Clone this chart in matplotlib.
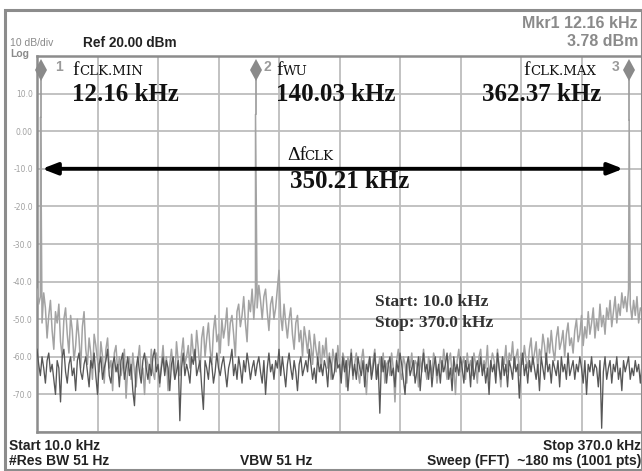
import numpy as np
import matplotlib
matplotlib.use("Agg")
import matplotlib.pyplot as plt
from matplotlib.patches import Rectangle

# ---------------- data ----------------
start_khz, stop_khz = 10.0, 370.0
ref_dbm = 20.0
y_ticks = [-80, -70, -60, -50, -40, -30, -20, -10, 0, 10, 20]
y_tick_labels = ["", "-70.0", "-60.0", "-50.0", "-40.0", "-30.0", "-20.0", "-10.0", "0.00", "10.0", ""]

# trace with the clock peaks (light gray), one value per kHz from 10 to 370 kHz
trace_bright = [
    -42, -46, -44, -51, -43, -47, -55, -49, -45, -53,
    -58, -48, -51, -46, -56, -60, -50, -47, -54, -59,
    -49, -53, -61, -57, -50, -55, -63, -52, -48, -58,
    -62, -55, -59, -66, -54, -57, -61, -64, -56, -60,
    -67, -58, -55, -63, -61, -69, -59, -57, -64, -60,
    -65, -62, -58, -71, -63, -60, -66, -59, -64, -68,
    -61, -57, -65, -63, -70, -60, -62, -67, -58, -64,
    -66, -59, -61, -68, -62, -57, -64, -60, -69, -62,
    -58, -63, -66, -56, -61, -65, -59, -55, -62, -60,
    -57, -63, -54, -59, -61, -53, -58, -64, -55, -52,
    -60, -55, -51, -58, -62, -53, -49, -56, -54, -59,
    -50, -55, -52, -47, -57, -51, -49, -54, -60, -48,
    -46, -52, -49, -44, -51, -56, -45, -48, -42, -50,
    -43, -47, -41, -45, -50, -44, -42, -48, -53, -46,
    -44, -50, -47, -42, -37, -49, -53, -46, -51, -55,
    -50, -47, -54, -58, -51, -49, -56, -53, -60, -52,
    -55, -59, -53, -57, -62, -54, -58, -61, -56, -64,
    -57, -60, -55, -63, -59, -66, -58, -61, -64, -57,
    -62, -65, -59, -61, -68, -60, -63, -58, -66, -62,
    -59, -64, -67, -61, -58, -63, -70, -62, -60, -65,
    -61, -58, -66, -63, -60, -64, -59, -67, -62, -61,
    -65, -59, -63, -72, -61, -58, -64, -66, -60, -62,
    -67, -60, -63, -59, -65, -61, -62, -68, -60, -64,
    -58, -63, -66, -60, -62, -65, -59, -61, -67, -63,
    -60, -64, -58, -62, -66, -61, -59, -65, -63, -70,
    -61, -58, -64, -62, -60, -66, -59, -63, -61, -65,
    -59, -62, -67, -60, -58, -64, -61, -63, -57, -66,
    -62, -59, -61, -65, -58, -63, -68, -60, -62, -57,
    -64, -59, -61, -56, -63, -60, -58, -65, -59, -62,
    -57, -61, -63, -58, -55, -62, -59, -56, -64, -58,
    -60, -54, -57, -62, -55, -59, -53, -58, -61, -55,
    -52, -58, -56, -53, -60, -54, -51, -57, -55, -59,
    -53, -50, -56, -54, -49, -57, -52, -55, -48, -54,
    -51, -47, -55, -50, -53, -46, -52, -49, -54, -47,
    -50, -45, -52, -48, -44, -51, -46, -49, -43, -47,
    -44, -48, -42, -46, -50, -45, -49, -44, -51, -47,
    -48,
]

# noise floor trace (dark gray), one value per kHz from 10 to 370 kHz
trace_dark = [
    -58, -62, -65, -60, -63, -67, -61, -59, -64, -62,
    -66, -70, -61, -63, -72, -60, -58, -64, -67, -62,
    -60, -65, -63, -69, -61, -59, -64, -66, -62, -60,
    -64, -68, -61, -63, -59, -65, -70, -62, -60, -66,
    -63, -61, -58, -65, -67, -62, -60, -64, -62, -68,
    -61, -59, -66, -63, -60, -65, -62, -69, -73, -63,
    -60, -64, -67, -61, -59, -63, -66, -62, -65, -60,
    -58, -64, -62, -67, -63, -60, -65, -61, -63, -69,
    -62, -60, -66, -64, -61, -77, -63, -59, -65, -62,
    -64, -67, -60, -62, -58, -65, -63, -61, -68, -74,
    -61, -63, -66, -60, -62, -67, -64, -59, -63, -65,
    -62, -60, -64, -68, -63, -61, -58, -65, -62, -66,
    -60, -63, -67, -61, -64, -59, -62, -66, -63, -61,
    -65, -62, -60, -64, -67, -61, -70, -63, -59, -64,
    -62, -66, -61, -63, -58, -65, -60, -64, -68, -62,
    -59, -63, -66, -61, -64, -69, -62, -60, -65, -63,
    -61, -64, -58, -62, -66, -63, -67, -60, -64, -62,
    -65, -61, -63, -68, -60, -62, -66, -64, -59, -63,
    -62, -67, -60, -64, -61, -69, -63, -59, -65, -62,
    -66, -60, -63, -65, -61, -68, -62, -64, -60, -66,
    -63, -59, -66, -62, -75, -60, -64, -61, -67, -62,
    -60, -65, -63, -68, -61, -64, -59, -62, -66, -70,
    -62, -60, -65, -63, -61, -67, -64, -60, -69, -63,
    -59, -64, -62, -66, -61, -68, -63, -60, -65, -62,
    -67, -61, -64, -62, -59, -66, -63, -69, -60, -64,
    -62, -65, -60, -63, -67, -61, -64, -62, -68, -60,
    -66, -63, -61, -64, -60, -65, -62, -67, -63, -70,
    -61, -64, -62, -67, -59, -63, -66, -60, -65, -62,
    -68, -61, -63, -66, -60, -64, -62, -71, -63, -59,
    -65, -62, -67, -61, -64, -60, -63, -66, -62, -69,
    -60, -63, -66, -59, -64, -62, -67, -61, -63, -65,
    -61, -68, -60, -64, -62, -66, -59, -65, -63, -61,
    -66, -62, -64, -60, -63, -67, -61, -70, -62, -64,
    -60, -65, -62, -63, -68, -61, -79, -64, -60, -66,
    -63, -61, -67, -62, -64, -60, -66, -63, -69, -61,
    -64, -62, -60, -66, -63, -65, -61, -64, -62, -67,
    -62,
]

peak_freqs = [12.16, 140.03, 362.37]
peak_levels = [3.78, 4.5, 3.0]
marker_numbers = ["1", "2", "3"]
marker_top_dbm = 16.3

arrow_from_khz, arrow_to_khz, arrow_dbm = 13.0, 358.8, -10.0

# ---------------- figure ----------------
W, H = 642, 471
fig = plt.figure(figsize=(W / 100, H / 100), dpi=100)
fig.patch.set_facecolor("white")


def fx(px):
    return px / W


def fy(py):
    return 1 - py / H


ax = fig.add_axes([fx(37), fy(432), 605 / W, 376 / H])
ax.set_xlim(start_khz, stop_khz)
ax.set_ylim(-80, ref_dbm)
ax.set_xticks(np.linspace(start_khz, stop_khz, 11))
ax.set_xticklabels([])
ax.set_yticks(y_ticks)
ax.set_yticklabels(y_tick_labels)
ax.tick_params(length=0, labelsize=5.5, labelcolor="#a0a0a0", pad=3)
ax.grid(True, color="#bdbdbd", lw=1.3)
ax.set_axisbelow(True)
for s in ax.spines.values():
    s.set_color("#8c8c8c")
    s.set_linewidth(1.8)

# build bright trace with peaks inserted
f_grid = np.linspace(start_khz, stop_khz, len(trace_bright))
fb = np.concatenate([f_grid, np.array(peak_freqs)])
vb = np.concatenate([np.array(trace_bright, float), np.array(peak_levels)])
order = np.argsort(fb)
ax.plot(fb[order], vb[order], color="#a3a3a3", lw=1.1, zorder=3)

f_dark = np.linspace(start_khz, stop_khz, len(trace_dark))
ax.plot(f_dark, trace_dark, color="#575757", lw=0.95, zorder=4)

# markers
for f, lvl, num in zip(peak_freqs, peak_levels, marker_numbers):
    ax.plot([f, f], [lvl, marker_top_dbm], color="#9a9a9a", lw=1.2, zorder=3, clip_on=False)
    ax.plot([f], [marker_top_dbm], marker="d", ms=11, mew=0, color="#8a8a8a", zorder=5, clip_on=False)

mk = dict(fontsize=10, color="#9a9a9a", family="Liberation Sans", fontweight="bold", va="baseline")
fig.text(fx(55), fy(71), "1", **mk)
fig.text(fx(263), fy(71), "2", **mk)
fig.text(fx(612), fy(71), "3", **mk)

# arrow
ax.annotate("", xy=(arrow_to_khz, arrow_dbm), xytext=(arrow_from_khz, arrow_dbm),
            arrowprops=dict(arrowstyle="<|-|>,head_length=0.9,head_width=0.35",
                            color="black", lw=2.8, shrinkA=0, shrinkB=0), zorder=6)

serif = "Liberation Serif"
big = dict(fontsize=18, family=serif, color="#111111", va="baseline", fontweight="bold")
fsym = dict(fontsize=14, family=serif, color="#111111", va="baseline")
sub = dict(fontsize=9.5, family="DejaVu Serif", color="#111111", va="baseline")

fig.text(fx(72), fy(75), "f", **fsym)
fig.text(fx(79), fy(75), "CLK.MIN", **sub)
fig.text(fx(72), fy(101), "12.16 kHz", **big)

fig.text(fx(276), fy(75), "f", **fsym)
fig.text(fx(283), fy(75), "WU", **sub)
fig.text(fx(276), fy(101), "140.03 kHz", **big)

fig.text(fx(523), fy(75), "f", **fsym)
fig.text(fx(530), fy(75), "CLK.MAX", **sub)
fig.text(fx(482), fy(101), "362.37 kHz", **big)

fig.text(fx(287), fy(160), "\u0394f", **fsym)
fig.text(fx(304), fy(160), "CLK", **sub)
fig.text(fx(290), fy(188), "350.21 kHz", **big)

small_serif = dict(fontsize=12.5, family=serif, color="#333333", va="baseline", fontweight="bold")
fig.text(fx(375), fy(306), "Start: 10.0 kHz", **small_serif)
fig.text(fx(375), fy(327), "Stop: 370.0 kHz", **small_serif)

# header texts
sans = "Liberation Sans"
fig.text(fx(10), fy(46), "10 dB/div", fontsize=7.5, family=sans, color="#8a8a8a", va="baseline")
fig.text(fx(10), fy(57), "Log", fontsize=7.5, family=sans, color="#8a8a8a", va="baseline", fontweight="bold")
fig.text(fx(83), fy(47), "Ref 20.00 dBm", fontsize=9.8, family=sans, color="#222222", va="baseline", fontweight="bold")
fig.text(fx(638), fy(28), "Mkr1 12.16 kHz", fontsize=11.5, family=sans, color="#8a8a8a", va="baseline", ha="right", fontweight="bold")
fig.text(fx(638), fy(46), "3.78 dBm", fontsize=11.5, family=sans, color="#8a8a8a", va="baseline", ha="right", fontweight="bold")

# footer texts
foot = dict(fontsize=10, family=sans, color="#222222", va="baseline", fontweight="bold")
fig.text(fx(9), fy(450), "Start 10.0 kHz", **foot)
fig.text(fx(9), fy(465), "#Res BW 51 Hz", **foot)
fig.text(fx(240), fy(465), "VBW 51 Hz", **foot)
fig.text(fx(641), fy(450), "Stop 370.0 kHz", ha="right", **foot)
fig.text(fx(641), fy(465), "Sweep (FFT)  ~180 ms (1001 pts)", ha="right", **foot)

# outer frame
fig.patches.append(Rectangle((fx(5), fy(470)), fx(642 - 5), (470 - 10) / H, transform=fig.transFigure,
                             fill=False, edgecolor="#8c8c8c", lw=2.2))

fig.savefig("out.png", dpi=100, facecolor="white")
